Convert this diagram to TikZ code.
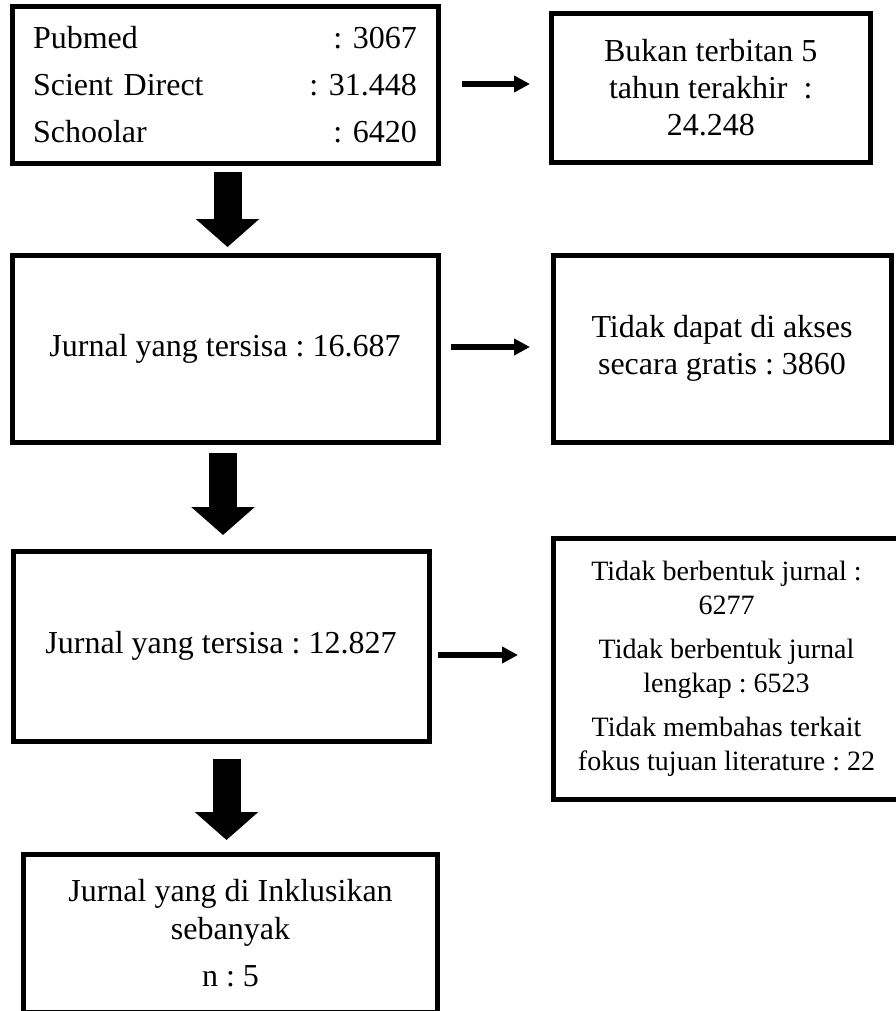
\documentclass[tikz,border=0pt]{standalone}
\usepackage{fontspec}
\setmainfont{Liberation Serif}
\frenchspacing
\usetikzlibrary{arrows.meta}

\tikzset{
  box/.style={draw=black,line width=2.5pt,rectangle,outer sep=0pt,align=center,
    font=\fontsize{16}{18.5}\selectfont},
  bigarr/.style={line width=14pt,-{Triangle[width=31pt,length=14pt]}},
  smallarr/.style={line width=3pt,-{Triangle[width=8pt,length=8pt]}}
}

\begin{document}
\begin{tikzpicture}[x=0.5pt,y=-0.5pt]
\useasboundingbox (0,0) rectangle (895,1011);

% left column
\node[box,minimum width=213pt,minimum height=78.5pt,text width=192pt,inner sep=0pt,
  align=left,font=\fontsize{16}{23.5}\selectfont] (src) at (225,85)
  {Pubmed\hfill: 3067\hspace*{9.5pt}\\
   Scient Direct\hfill: 31.448\hspace*{9.5pt}\\
   Schoolar\hfill: 6420\hspace*{9.5pt}};
\node[box,minimum width=213pt,minimum height=93.5pt] (rem1) at (225,348.5) {Jurnal yang tersisa : 16.687};
\node[box,minimum width=208pt,minimum height=95pt] (rem2) at (221,646) {Jurnal yang tersisa : 12.827};
\node[box,minimum width=207pt,minimum height=78.75pt,font=\fontsize{16}{19}\selectfont] (incl) at (230.5,933.25)
  {Jurnal yang di Inklusikan\\sebanyak\\[4.5pt]n : 5};

% right column
\node[box,minimum width=159.25pt,minimum height=74.5pt] (excl1) at (710.75,88)
  {Bukan terbitan 5\\tahun terakhir~~:\\24.248};
\node[box,minimum width=169pt,minimum height=93.5pt] (excl2) at (722,348.5)
  {Tidak dapat di akses\\secara gratis : 3860};
\node[box,minimum width=173.5pt,minimum height=130.5pt,font=\fontsize{14}{17}\selectfont] (excl3) at (726.5,669)
  {Tidak berbentuk jurnal :\\6277\\[5pt]Tidak berbentuk jurnal\\lengkap : 6523\\[5pt]
   Tidak membahas terkait\\fokus tujuan literature : 22};

% big arrows
\draw[bigarr,shorten <=4.25pt,shorten >=4pt] ([xshift=1.25pt]src.south) -- ([xshift=1.25pt]rem1.north);
\draw[bigarr,shorten <=5.5pt,shorten >=8pt] ([xshift=-1pt]rem1.south) -- ([xshift=-1pt]rem1.south |- rem2.north);
\draw[bigarr,shorten <=8.75pt,shorten >=7.25pt] ([xshift=2.75pt]rem2.south) -- ([xshift=2.75pt]rem2.south |- incl.north);

% small arrows
\draw[smallarr,shorten <=12pt,shorten >=10.75pt] ([yshift=0.5pt]src.east) -- ([yshift=0.5pt]src.east -| excl1.west);
\draw[smallarr,shorten <=6.5pt,shorten >=11.5pt] ([yshift=0.75pt]rem1.east) -- ([yshift=0.75pt]rem1.east -| excl2.west);
\draw[smallarr,shorten <=4.5pt,shorten >=17.5pt] ([yshift=-4.5pt]rem2.east) -- ([yshift=-4.5pt]rem2.east -| excl3.west);
\end{tikzpicture}
\end{document}
